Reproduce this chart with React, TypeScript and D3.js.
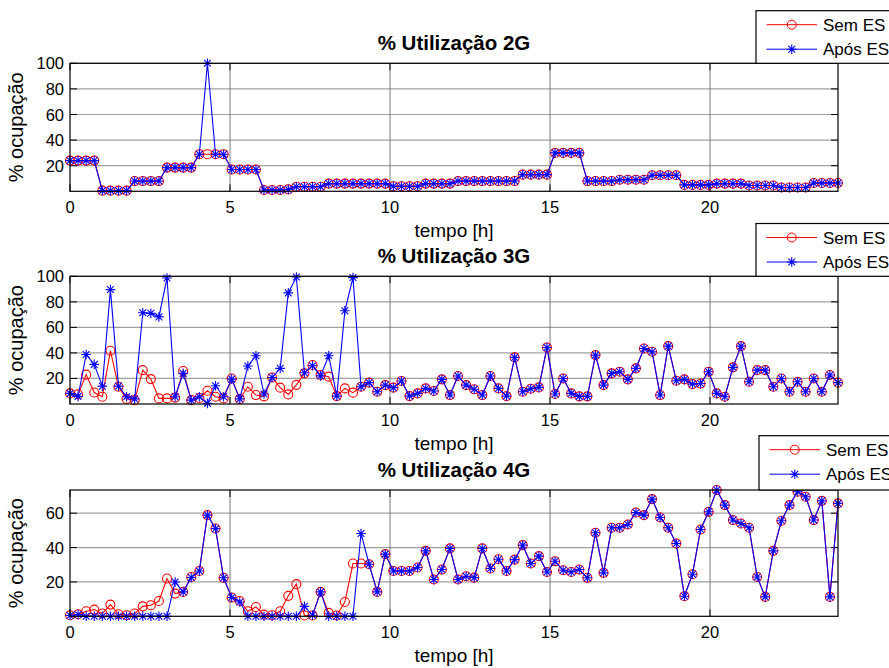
import React from "react";
import * as d3 from "d3";

// time samples: 96 quarter-hour-ish samples spanning the day
const tempo = d3.range(96).map((i) => (i * 24) / 95);

const semES2G = [
  24, 24, 24, 24, 0.5, 0.5, 0.5, 0.5, 8, 8, 8, 8, 18.5, 18.5, 18.5, 18.5,
  29, 29, 29, 29, 17, 17, 17, 17, 1, 1, 1, 1.5, 3.5, 3.5, 3.5, 3.5,
  6, 6, 6, 6, 6, 6, 6, 6, 4, 4, 4, 4, 6, 6, 6, 6,
  8, 8, 8, 8, 8, 8, 8, 8, 13, 13, 13, 13, 30, 30, 30, 30,
  8, 8, 8, 8, 9, 9, 9, 9, 12.5, 12.5, 12.5, 12.5, 5, 5, 5, 5,
  6, 6, 6, 6, 4.5, 4.5, 4.5, 4.5, 3, 3, 3, 3, 6.5, 6.5, 6.5, 6.5,
];
const aposES2G = [
  24, 24, 24, 24, 0.5, 0.5, 0.5, 0.5, 8, 8, 8, 8, 18.5, 18.5, 18.5, 18.5,
  29, 100, 29, 29, 17, 17, 17, 17, 1, 1, 1, 1.5, 3.5, 3.5, 3.5, 3.5,
  6, 6, 6, 6, 6, 6, 6, 6, 4, 4, 4, 4, 6, 6, 6, 6,
  8, 8, 8, 8, 8, 8, 8, 8, 13, 13, 13, 13, 30, 30, 30, 30,
  8, 8, 8, 8, 9, 9, 9, 9, 12.5, 12.5, 12.5, 12.5, 5, 5, 5, 5,
  6, 6, 6, 6, 4.5, 4.5, 4.5, 4.5, 3, 3, 3, 3, 6.5, 6.5, 6.5, 6.5,
];

const semES3G = [
  8.3, 7.5, 23, 9, 5.7, 41.7, 13.5, 4, 3, 26.5, 19.5, 4.4, 4.4, 5, 25.8, 3,
  4.7, 10.4, 5.7, 4.4, 20, 4, 13.5, 7, 6, 20.8, 12.8, 7.5, 15, 24, 30.5, 22.7,
  21.4, 6.2, 12.2, 8.9, 13.5, 16.7, 9.6, 14.8, 12.8, 18, 6.2, 8.3, 12.2, 10.2, 19.3, 7,
  21.9, 14.8, 11.5, 7, 21.9, 12.2, 6.2, 36.5, 9.6, 12, 13, 44.3, 7.8, 20, 8.3, 6,
  6, 38.3, 14.8, 24, 25.3, 19.3, 27.9, 43.5, 40.9, 7, 45.3, 18.2, 19.3, 15.6, 16, 25.3,
  8.3, 5.7, 28.7, 45.3, 17.4, 26.5, 26.5, 13.5, 20, 9.6, 17.4, 9.6, 20, 9.6, 22.7, 16.7,
];
const aposES3G = [
  8.3, 6, 38.8, 31, 14, 89.6, 14, 5.7, 4, 71.4, 71, 68.2, 98.7, 5.7, 24, 3,
  5.7, 0.5, 14.3, 5.7, 19.5, 4, 29.7, 37.8, 7.8, 20.8, 27.9, 87, 99.5, 24.5, 30, 22,
  37.8, 6.2, 73, 99, 13.5, 16.7, 9.6, 14.8, 12.8, 18, 6.2, 8.3, 12.2, 10.2, 19.3, 7,
  21.9, 14.8, 11.5, 7, 21.9, 12.2, 6.2, 36.5, 9.6, 12, 13, 44.3, 7.8, 20, 8.3, 6,
  6, 38.3, 14.8, 24, 25.3, 19.3, 27.9, 43.5, 40.9, 7, 45.3, 18.2, 19.3, 15.6, 16, 25.3,
  8.3, 5.7, 28.7, 45.3, 17.4, 26.5, 26.5, 13.5, 20, 9.6, 17.4, 9.6, 20, 9.6, 22.7, 16.7,
];

const semES4G = [
  0.6, 1.2, 2.9, 3.9, 1.6, 6.8, 1.2, 0.6, 1.6, 5.8, 6.4, 8.9, 22, 13.2, 14.2, 22.9,
  26.4, 58.9, 51.1, 22.4, 10.9, 8.9, 2.9, 5.4, 1, 0.6, 2.9, 11.9, 18.7, 0.5, 0.5, 14.2,
  2, 0.5, 8.3, 30.7, 30.7, 30.3, 14.2, 36.2, 26.4, 26.4, 26.4, 28.4, 38.1, 21.4, 27.2, 39.5,
  21.4, 23.3, 22.5, 39.5, 27.8, 33.2, 26.4, 33, 41.4, 30.7, 35, 25.8, 32, 26.8, 25.8, 27.2,
  22.4, 48.6, 25.3, 51.5, 51.5, 53.4, 60.4, 58.9, 68.2, 57.5, 51.5, 42.4, 11.7, 24.5, 50.5, 60.8,
  73.5, 64.7, 56, 54, 51.5, 22.9, 11.3, 38.1, 55.6, 64.7, 72.5, 69.6, 56, 67.2, 11.3, 65.7,
];
const aposES4G = [
  0.5, 1, 0, 0, 0, 0, 0, 0, 0, 0, 0, 0, 0, 20, 14.2, 22.6,
  26.4, 58.9, 51, 22.4, 10.9, 8.3, 0, 0, 0, 0, 0, 0, 0, 5.8, 0.6, 14.2,
  0, 0, 0, 0, 48.2, 30.3, 14.2, 36.2, 26.4, 26.4, 26.4, 28.4, 38.1, 21.4, 27.2, 39.5,
  21.4, 23.3, 22.5, 39.5, 27.8, 33.2, 26.4, 33, 41.4, 30.7, 35, 25.8, 32, 26.8, 25.8, 27.2,
  22.4, 48.6, 25.3, 51.5, 51.5, 53.4, 60.4, 58.9, 68.2, 57.5, 51.5, 42.4, 11.7, 24.5, 50.5, 60.8,
  73.5, 64.7, 56, 54, 51.5, 22.9, 11.3, 38.1, 55.6, 64.7, 72.5, 69.6, 56, 67.2, 11.3, 65.7,
];

const titles = ["% Utilização 2G", "% Utilização 3G", "% Utilização 4G"];
const yTicks100 = [20, 40, 60, 80, 100];
const yTicks4G = [20, 40, 60];
const xTicks = [0, 5, 10, 15, 20];
const legendLabels = ["Sem ES", "Após ES"];

const FONT = "Arial, 'Liberation Sans', Helvetica, sans-serif";
const RED = "#ff0000";
const BLUE = "#0000ff";

const x = d3.scaleLinear().domain([0, 24]).range([70, 838]);

function Star({ cx, cy }: { cx: number; cy: number }) {
  const a = 4.8;
  const b = 3.4;
  return (
    <path
      d={`M${cx - a},${cy}H${cx + a}M${cx},${cy - a}V${cy + a}M${cx - b},${cy - b}L${cx + b},${cy + b}M${cx - b},${cy + b}L${cx + b},${cy - b}`}
      stroke={BLUE}
      strokeWidth={1.1}
      fill="none"
    />
  );
}

function Panel(props: {
  title: string;
  top: number;
  bottom: number;
  yMax: number;
  yTicks: number[];
  sem: number[];
  apos: number[];
  legend: { left: number; top: number };
}) {
  const { title, top, bottom, yMax, yTicks, sem, apos, legend } = props;
  const y = d3.scaleLinear().domain([0, yMax]).range([bottom, top]);
  const line = d3
    .line<number>()
    .x((_, i) => x(tempo[i]))
    .y((d) => y(d));
  const left = x(0);
  const right = x(24);
  const midX = (left + right) / 2;
  const tl = 7;
  const lx1 = legend.left + 10.5;
  const lx2 = legend.left + 61;
  const lmid = (lx1 + lx2) / 2;
  const ly1 = legend.top + 14;
  const ly2 = legend.top + 38.5;
  return (
    <g>
      {/* horizontal grid */}
      {yTicks.map((t) => (
        <line key={"gy" + t} x1={left} x2={right} y1={y(t)} y2={y(t)} stroke="#a0a0a0" strokeWidth={1.2} />
      ))}
      {/* vertical grid */}
      {xTicks.slice(1).map((t) => (
        <line key={"gx" + t} x1={x(t)} x2={x(t)} y1={top} y2={bottom} stroke="#5a5a5a" strokeWidth={0.8} />
      ))}
      {/* ticks */}
      {yTicks.map((t) => (
        <g key={"ty" + t}>
          <line x1={left} x2={left + tl} y1={y(t)} y2={y(t)} stroke="#000" />
          <line x1={right} x2={right - tl} y1={y(t)} y2={y(t)} stroke="#000" />
          <text x={left - 6} y={y(t) + 6} textAnchor="end" fontSize={16.5} fontFamily={FONT}>
            {t}
          </text>
        </g>
      ))}
      {xTicks.map((t) => (
        <g key={"tx" + t}>
          <line x1={x(t)} x2={x(t)} y1={bottom} y2={bottom - tl} stroke="#000" />
          <line x1={x(t)} x2={x(t)} y1={top} y2={top + tl} stroke="#000" />
          <text x={x(t)} y={bottom + 22} textAnchor="middle" fontSize={16.5} fontFamily={FONT}>
            {t}
          </text>
        </g>
      ))}
      {/* series */}
      <path d={line(sem) || ""} fill="none" stroke={RED} strokeWidth={1.1} />
      {sem.map((d, i) => (
        <circle key={"c" + i} cx={x(tempo[i])} cy={y(d)} r={4.5} fill="none" stroke={RED} strokeWidth={1.1} />
      ))}
      <path d={line(apos) || ""} fill="none" stroke={BLUE} strokeWidth={1.1} />
      {apos.map((d, i) => (
        <Star key={"s" + i} cx={x(tempo[i])} cy={y(d)} />
      ))}
      {/* axes box */}
      <rect x={left} y={top} width={right - left} height={bottom - top} fill="none" stroke="#000" strokeWidth={1.2} />
      {/* labels */}
      <text x={midX} y={top - 13} textAnchor="middle" fontSize={20.5} fontWeight="bold" fontFamily={FONT}>
        {title}
      </text>
      <text x={midX} y={bottom + 46} textAnchor="middle" fontSize={19} fontFamily={FONT}>
        tempo [h]
      </text>
      <text
        transform={`translate(23,${(top + bottom) / 2}) rotate(-90)`}
        textAnchor="middle"
        fontSize={20}
        fontFamily={FONT}
      >
        % ocupação
      </text>
      {/* legend */}
      <rect x={legend.left} y={legend.top} width={160} height={top - legend.top} fill="#fff" stroke="#000" strokeWidth={1.2} />
      <line x1={lx1} x2={lx2} y1={ly1} y2={ly1} stroke={RED} />
      <circle cx={lmid} cy={ly1} r={4.5} fill="none" stroke={RED} />
      <text x={legend.left + 67} y={ly1 + 6} fontSize={17} fontFamily={FONT}>
        {legendLabels[0]}
      </text>
      <line x1={lx1} x2={lx2} y1={ly2} y2={ly2} stroke={BLUE} />
      <Star cx={lmid} cy={ly2} />
      <text x={legend.left + 67} y={ly2 + 6} fontSize={17} fontFamily={FONT}>
        {legendLabels[1]}
      </text>
    </g>
  );
}

export default function App() {
  return (
    <svg
      width={889}
      height={668}
      style={{ position: "absolute", left: 0, top: 0, background: "#fff" }}
    >
      <rect width={889} height={668} fill="#fff" />
      <Panel
        title={titles[0]}
        top={63.3}
        bottom={191.3}
        yMax={100}
        yTicks={yTicks100}
        sem={semES2G}
        apos={aposES2G}
        legend={{ left: 756, top: 10.7 }}
      />
      <Panel
        title={titles[1]}
        top={276.3}
        bottom={404}
        yMax={100}
        yTicks={yTicks100}
        sem={semES3G}
        apos={aposES3G}
        legend={{ left: 756, top: 223.5 }}
      />
      <Panel
        title={titles[2]}
        top={490}
        bottom={616.3}
        yMax={73.5}
        yTicks={yTicks4G}
        sem={semES4G}
        apos={aposES4G}
        legend={{ left: 759, top: 435.7 }}
      />
    </svg>
  );
}
